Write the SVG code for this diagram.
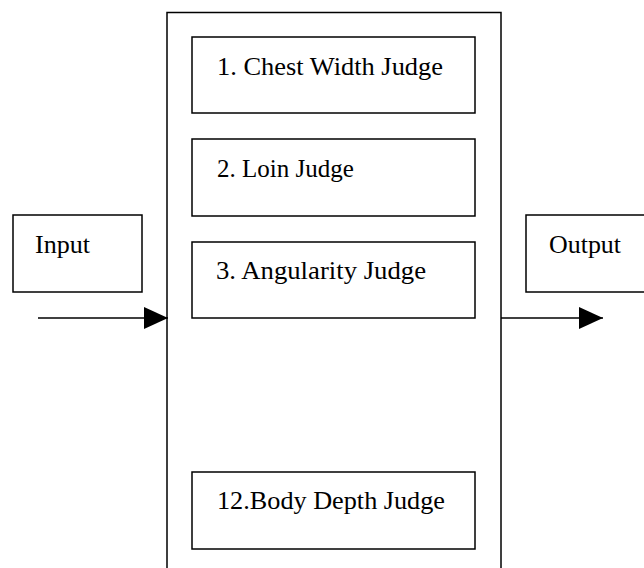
<svg xmlns="http://www.w3.org/2000/svg" width="644" height="568" viewBox="0 0 644 568">
<style>
.box{fill:#fff;stroke:#000;stroke-width:1.5}
.lbl{font-family:"Liberation Serif","Times New Roman",serif;font-size:25px;fill:#000}
.edge{stroke:#000;stroke-width:1.5;fill:none}
</style>
<defs>
<marker id="arr" markerWidth="24" markerHeight="22" refX="24" refY="11" orient="auto" markerUnits="userSpaceOnUse">
<path d="M0,0 L24,11 L0,22 Z" fill="#000"/>
</marker>
</defs>
<rect width="644" height="568" fill="#fff"/>
<g id="system">
<rect class="box" x="167" y="12.5" width="334" height="570"/>
</g>
<g id="judge1">
<rect class="box" x="192" y="37" width="283" height="76"/>
<text class="lbl" x="217" y="75" textLength="226" lengthAdjust="spacingAndGlyphs">1. Chest Width Judge</text>
</g>
<g id="judge2">
<rect class="box" x="192" y="139" width="283" height="77"/>
<text class="lbl" x="217" y="177">2. Loin Judge</text>
</g>
<g id="judge3">
<rect class="box" x="192" y="242" width="283" height="76"/>
<text class="lbl" x="216" y="279" textLength="210" lengthAdjust="spacingAndGlyphs">3. Angularity Judge</text>
</g>
<g id="judge12">
<rect class="box" x="192" y="472" width="283" height="77"/>
<text class="lbl" x="217" y="509" textLength="228" lengthAdjust="spacingAndGlyphs">12.Body Depth Judge</text>
</g>
<g id="input">
<rect class="box" x="13" y="215" width="129" height="77"/>
<text class="lbl" x="35" y="253" textLength="55" lengthAdjust="spacingAndGlyphs">Input</text>
</g>
<g id="output">
<rect class="box" x="526" y="215" width="130" height="77"/>
<text class="lbl" x="549" y="253" textLength="72" lengthAdjust="spacingAndGlyphs">Output</text>
</g>
<g id="connectors">
<line class="edge" x1="38" y1="318" x2="168" y2="318" marker-end="url(#arr)"/>
<line class="edge" x1="501" y1="318" x2="603" y2="318" marker-end="url(#arr)"/>
</g>
</svg>
